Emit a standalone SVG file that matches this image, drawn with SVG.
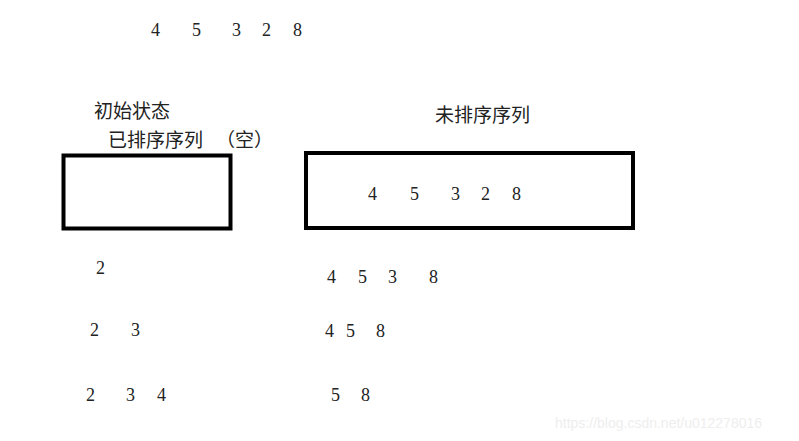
<svg xmlns="http://www.w3.org/2000/svg" width="799" height="441" viewBox="0 0 799 441">
<style>
.n{font-family:"Liberation Serif","Noto Sans CJK SC",serif;font-size:18px;fill:#222}
.c{font-family:"Liberation Serif","Noto Sans CJK SC",sans-serif;font-size:19px;fill:#222}
.box{fill:none;stroke:#000;stroke-width:4}
.wm{font-family:"Liberation Sans",Arial,sans-serif;font-size:14px;fill:#eeeeee}
</style>
<rect width="799" height="441" fill="#fff"/>
<g id="top-sequence">
<text class="n" x="151" y="36">4</text>
<text class="n" x="192" y="36">5</text>
<text class="n" x="232" y="36">3</text>
<text class="n" x="262" y="36">2</text>
<text class="n" x="293" y="36">8</text>
</g>
<g id="sorted">
<text class="c" x="94" y="118">初始状态</text>
<text class="c" x="108" y="147">已排序序列</text>
<text class="c" x="216" y="147">（空）</text>
<rect class="box" x="63.5" y="155.5" width="167" height="73"/>
</g>
<g id="unsorted">
<text class="c" x="435" y="122">未排序序列</text>
<rect class="box" x="306" y="153" width="327" height="75"/>
<text class="n" x="368" y="200">4</text>
<text class="n" x="410" y="200">5</text>
<text class="n" x="451" y="200">3</text>
<text class="n" x="481" y="200">2</text>
<text class="n" x="512" y="200">8</text>
</g>
<g id="steps-left">
<text class="n" x="96" y="274">2</text>
<text class="n" x="90" y="336">2</text>
<text class="n" x="131" y="336">3</text>
<text class="n" x="86" y="401">2</text>
<text class="n" x="126" y="401">3</text>
<text class="n" x="157" y="401">4</text>
</g>
<g id="steps-right">
<text class="n" x="327" y="283">4</text>
<text class="n" x="358" y="283">5</text>
<text class="n" x="388" y="283">3</text>
<text class="n" x="429" y="283">8</text>
<text class="n" x="325" y="337">4</text>
<text class="n" x="346" y="337">5</text>
<text class="n" x="376" y="337">8</text>
<text class="n" x="331" y="401">5</text>
<text class="n" x="361" y="401">8</text>
</g>
<g id="connectors"></g>
<text class="wm" x="555" y="428">https://blog.csdn.net/u012278016</text>
</svg>
